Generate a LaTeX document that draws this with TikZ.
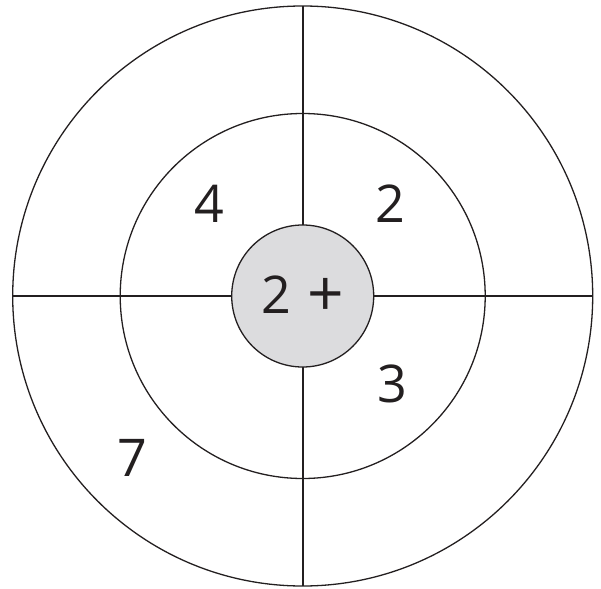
\documentclass[tikz,border=0pt]{standalone}
\usepackage{fontspec}
\setmainfont{Open Sans}
\definecolor{ink}{HTML}{231F20}
\definecolor{bullfill}{HTML}{DCDCDE}
\begin{document}
\begin{tikzpicture}[x=1pt,y=-1pt,
  ring/.style={circle,draw=ink,line width=1.3pt,inner sep=0pt,outer sep=0pt},
  axis/.style={draw=ink,line width=2.4pt},
  score/.style={text=ink,font=\fontsize{52}{52}\selectfont,inner sep=0pt}]
\useasboundingbox (0,0) rectangle (601,588);
\node[ring,minimum size=580pt] (outer) at (302.7,296) {};
\node[ring,minimum size=365pt] (middle) at (302.7,296) {};
\draw[axis] (outer.north) -- (outer.south);
\draw[axis] (outer.west) -- (outer.east);
\node[ring,fill=bullfill,minimum size=142pt] (bull) at (302.7,296) {};
\node[score] (s4) at (209,204) {4};
\node[score] (s2) at (390,204) {2};
\node[score] (sc) at (302.7,296) {2\hspace{16pt}\raisebox{-3pt}{\fontsize{64}{64}\selectfont +}};
\node[score] (s3) at (392.5,384) {3};
\node[score] (s7) at (132.5,458) {7};
\end{tikzpicture}
\end{document}
